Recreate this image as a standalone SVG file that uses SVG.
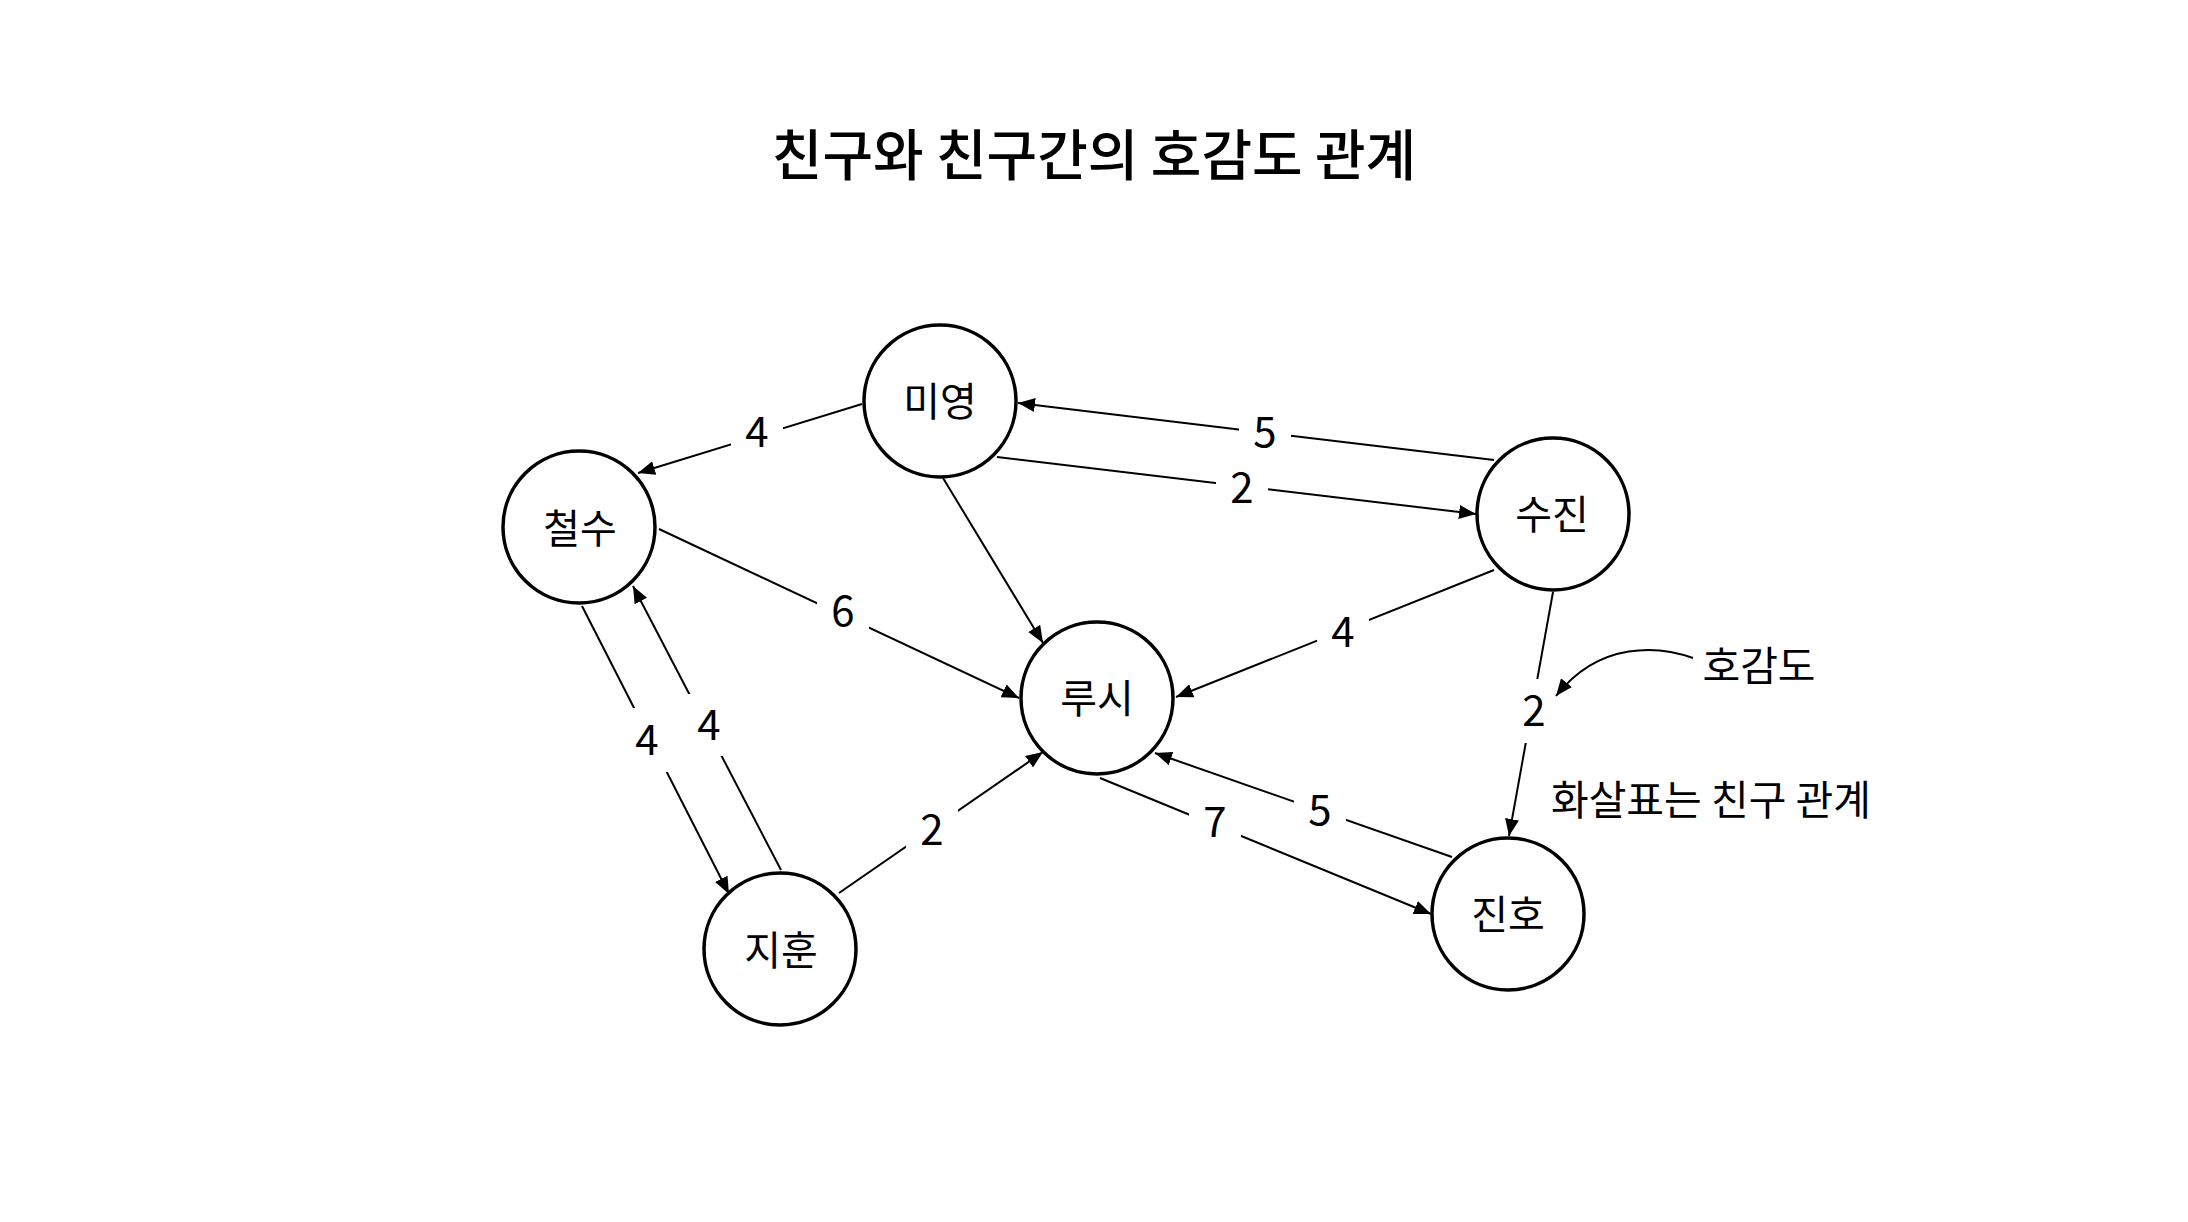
<svg xmlns="http://www.w3.org/2000/svg" width="2188" height="1222" viewBox="0 0 2188 1222">
<style>
text{font-family:"Noto Sans CJK KR","Noto Sans",sans-serif;fill:#000;text-anchor:middle}
.title{font-size:55px;font-weight:500}
.node circle{fill:#fff;stroke:#000;stroke-width:3.5}
.node text{font-size:40px}
.edge{stroke:#000;stroke-width:2;fill:none;marker-end:url(#arr)}
.lbl rect{fill:#fff}
.lbl text{font-size:42px}
.note{font-size:41px}
</style>
<defs>
<marker id="arr" markerUnits="userSpaceOnUse" markerWidth="18" markerHeight="14" refX="17" refY="7" orient="auto">
<path d="M0,0 L17,7 L0,14 z" fill="#000"/>
</marker>
</defs>
<rect width="2188" height="1222" fill="#fff"/>
<text class="title" x="1094" y="175">친구와 친구간의 호감도 관계</text>
<g id="connectors">
<line class="edge" x1="862" y1="404" x2="638" y2="473"/>
<line class="edge" x1="659" y1="529" x2="1019" y2="698"/>
<line class="edge" x1="943" y1="478" x2="1043" y2="643"/>
<line class="edge" x1="1494" y1="460" x2="1018" y2="403"/>
<line class="edge" x1="997" y1="457" x2="1476" y2="514"/>
<line class="edge" x1="1494" y1="570" x2="1176" y2="697"/>
<line class="edge" x1="1553" y1="592" x2="1509" y2="836"/>
<line class="edge" x1="1452" y1="857" x2="1155" y2="753"/>
<line class="edge" x1="1100" y1="778" x2="1431" y2="914"/>
<line class="edge" x1="582" y1="606" x2="729" y2="894"/>
<line class="edge" x1="781" y1="870" x2="633" y2="586"/>
<line class="edge" x1="839" y1="893" x2="1043" y2="752"/>
<g class="lbl">
<rect x="731" y="403" width="52" height="62"/><text x="757" y="447">4</text>
<rect x="817" y="580" width="52" height="62"/><text x="843" y="626">6</text>
<rect x="1239" y="401" width="52" height="62"/><text x="1265" y="447">5</text>
<rect x="1216" y="457" width="52" height="62"/><text x="1242" y="503">2</text>
<rect x="1317" y="601" width="52" height="62"/><text x="1343" y="647">4</text>
<rect x="1510" y="679" width="48" height="64"/><text x="1534" y="726">2</text>
<rect x="1294" y="779" width="52" height="62"/><text x="1320" y="825">5</text>
<rect x="1189" y="791" width="52" height="62"/><text x="1215" y="837">7</text>
<rect x="621" y="708" width="52" height="64"/><text x="647" y="755">4</text>
<rect x="683" y="694" width="52" height="62"/><text x="709" y="740">4</text>
<rect x="906" y="799" width="52" height="62"/><text x="932" y="845">2</text>
</g>
<path class="edge" d="M1693,658 C1660,646 1600,640 1556,696"/>
</g>
<g id="n-miyoung" class="node"><circle cx="940" cy="401" r="76"/><text x="940" y="416">미영</text></g>
<g id="n-cheolsu" class="node"><circle cx="579" cy="527" r="76"/><text x="580" y="543">철수</text></g>
<g id="n-sujin" class="node"><circle cx="1553" cy="514" r="76"/><text x="1552" y="529">수진</text></g>
<g id="n-lucy" class="node"><circle cx="1097" cy="698" r="76"/><text x="1097" y="713">루시</text></g>
<g id="n-jihun" class="node"><circle cx="780" cy="949" r="76"/><text x="781" y="965">지훈</text></g>
<g id="n-jinho" class="node"><circle cx="1508" cy="914" r="76"/><text x="1508" y="929">진호</text></g>
<text class="note" x="1759" y="681">호감도</text>
<text class="note" x="1711" y="815">화살표는 친구 관계</text>
</svg>
